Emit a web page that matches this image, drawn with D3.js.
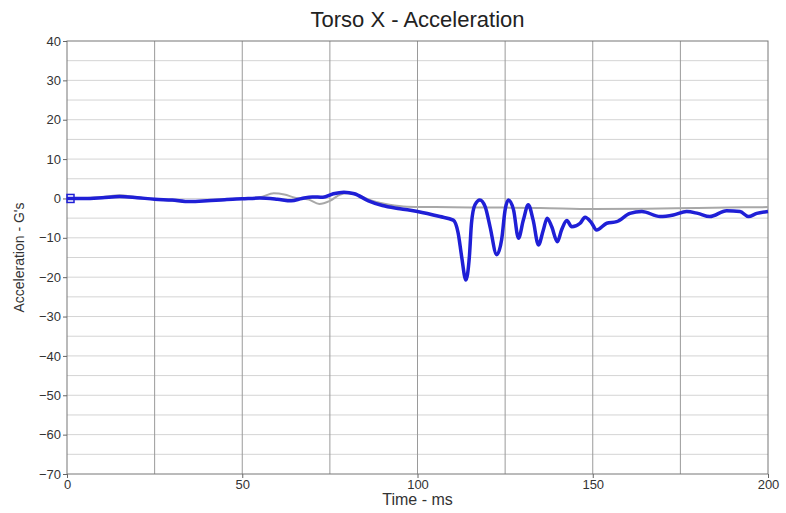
<!DOCTYPE html>
<html>
<head>
<meta charset="utf-8">
<script src="https://cdn.jsdelivr.net/npm/d3@7"></script>
<style>
  body { margin: 0; background: #fff; }
  text { font-family: "Liberation Sans", Arial, sans-serif; fill: #333; }
  .grid-h line { stroke: #d4d4d4; }
  .grid-v line { stroke: #9a9a9a; }
  .axis path, .axis line { stroke: #666; }
</style>
</head>
<body>
<div id="chart"></div>
<script>
// blue trace (time in ms, acceleration in G's)
const blueTime = [0, 5, 10, 15, 20, 25, 30, 35, 40, 45, 50, 55, 60, 64, 67, 70, 73, 76, 79, 82, 86, 90, 95, 100, 106.4,
  110.2, 111.6, 112.6, 113.8, 114.8, 115.4, 116.4, 117.8, 119.3, 120.7, 122.6, 124, 125, 125.9, 127.4, 128.8, 130.2,
  131.6, 133, 134.5, 135.9, 137, 138.3, 139.9, 141.1, 142.6, 144, 146.4, 147.8, 149.5, 151.1, 154, 156.8, 160.6,
  164, 169.2, 173, 176.8, 180, 183.4, 188.2, 192, 194.4, 196.8, 200];
const blueAccel = [0, 0, 0.2, 0.5, 0.2, -0.2, -0.4, -0.8, -0.6, -0.3, -0.1, 0.1, -0.2, -0.6, 0, 0.4, 0.3, 1.2, 1.6, 1.2, -0.6, -1.8, -2.6, -3.3, -4.6,
  -5.5, -8.8, -14.8, -20.7, -14.8, -6.3, -1.6, -0.4, -2.1, -7.2, -14.3, -10.5, -2.9, -0.4, -2.9, -10.1, -5.5,
  -1.6, -5.5, -11.8, -8, -5, -7.2, -11, -8, -5.6, -7.2, -6.3, -4.8, -6, -8.0, -6.3, -5.9, -3.8,
  -3.3, -4.6, -4.2, -3.3, -3.8, -4.6, -3.1, -3.3, -4.6, -3.8, -3.3];

// gray trace
const grayTime = [0, 10, 15, 20, 25, 30, 35, 40, 45, 50, 55, 59, 62, 65, 69, 72, 75, 78, 80, 83, 87, 92, 97, 105, 120, 135, 150, 165, 180, 200];
const grayAccel = [0, 0.3, 0.8, 0.3, -0.2, -0.6, -0.9, -0.5, -0.2, 0, 0.3, 1.3, 1, 0.2, -0.3, -1.4, -0.6, 1, 1.3, 0.8, -0.6, -1.6, -2.1, -2.2, -2.3, -2.4, -2.7, -2.6, -2.4, -2.2];

const xTicks = [0, 50, 100, 150, 200];
const yTicks = [40, 30, 20, 10, 0, -10, -20, -30, -40, -50, -60, -70];

const margin = { top: 41, right: 18, bottom: 39, left: 67 };
const W = 786, H = 513;
const width = W - margin.left - margin.right;
const height = H - margin.top - margin.bottom;

const svg = d3.select('#chart').append('svg').attr('width', W).attr('height', H);
const g = svg.append('g').attr('transform', `translate(${margin.left},${margin.top})`);

const x = d3.scaleLinear().domain([0, 200]).range([0, width]);
const y = d3.scaleLinear().domain([-70, 40]).range([height, 0]);

// horizontal grid every 5 G
g.append('g').classed('grid-h', true)
  .selectAll('line').data(d3.range(-65, 40, 5)).join('line')
  .attr('x1', 0).attr('x2', width)
  .attr('y1', d => y(d)).attr('y2', d => y(d));

// vertical grid every 25 ms
g.append('g').classed('grid-v', true)
  .selectAll('line').data(d3.range(25, 200, 25)).join('line')
  .attr('y1', 0).attr('y2', height)
  .attr('x1', d => x(d)).attr('x2', d => x(d));

// frame
g.append('rect').attr('width', width).attr('height', height)
  .attr('fill', 'none').attr('stroke', '#777');

const xAxis = d3.axisBottom(x).tickValues(xTicks).tickSize(4).tickPadding(2);
const yAxis = d3.axisLeft(y).tickValues(yTicks).tickSize(4).tickPadding(2);

g.append('g').classed('x axis', true)
  .attr('transform', `translate(0,${height})`)
  .call(xAxis)
  .call(a => a.select('.domain').remove())
  .selectAll('text').style('font-size', '13px');

g.append('g').classed('y axis', true)
  .call(yAxis)
  .call(a => a.select('.domain').remove())
  .selectAll('text').style('font-size', '13px');

const line = d3.line()
  .x(d => x(d[0]))
  .y(d => y(d[1]))
  .curve(d3.curveMonotoneX);

g.append('path').datum(d3.zip(grayTime, grayAccel))
  .attr('d', line).attr('fill', 'none')
  .attr('stroke', '#a8a8a8').attr('stroke-width', 2);

g.append('path').datum(d3.zip(blueTime, blueAccel))
  .attr('d', line).attr('fill', 'none')
  .attr('stroke', '#1f1fd6').attr('stroke-width', 3.5).attr('stroke-linejoin', 'round');

// small start marker
g.append('rect').attr('x', 0).attr('y', y(0) - 4).attr('width', 7).attr('height', 8)
  .attr('fill', 'none').attr('stroke', '#1f1fd6').attr('stroke-width', 1.5);

// titles
svg.append('text').attr('x', margin.left + width / 2).attr('y', 27)
  .attr('text-anchor', 'middle').style('font-size', '22px').style('fill', '#222')
  .text('Torso X - Acceleration');

svg.append('text').attr('x', margin.left + width / 2).attr('y', 505)
  .attr('text-anchor', 'middle').style('font-size', '16px')
  .text('Time - ms');

svg.append('text')
  .attr('transform', `translate(24,${margin.top + height / 2}) rotate(-90)`)
  .attr('text-anchor', 'middle').style('font-size', '14px')
  .text("Acceleration - G's");
</script>
</body>
</html>
